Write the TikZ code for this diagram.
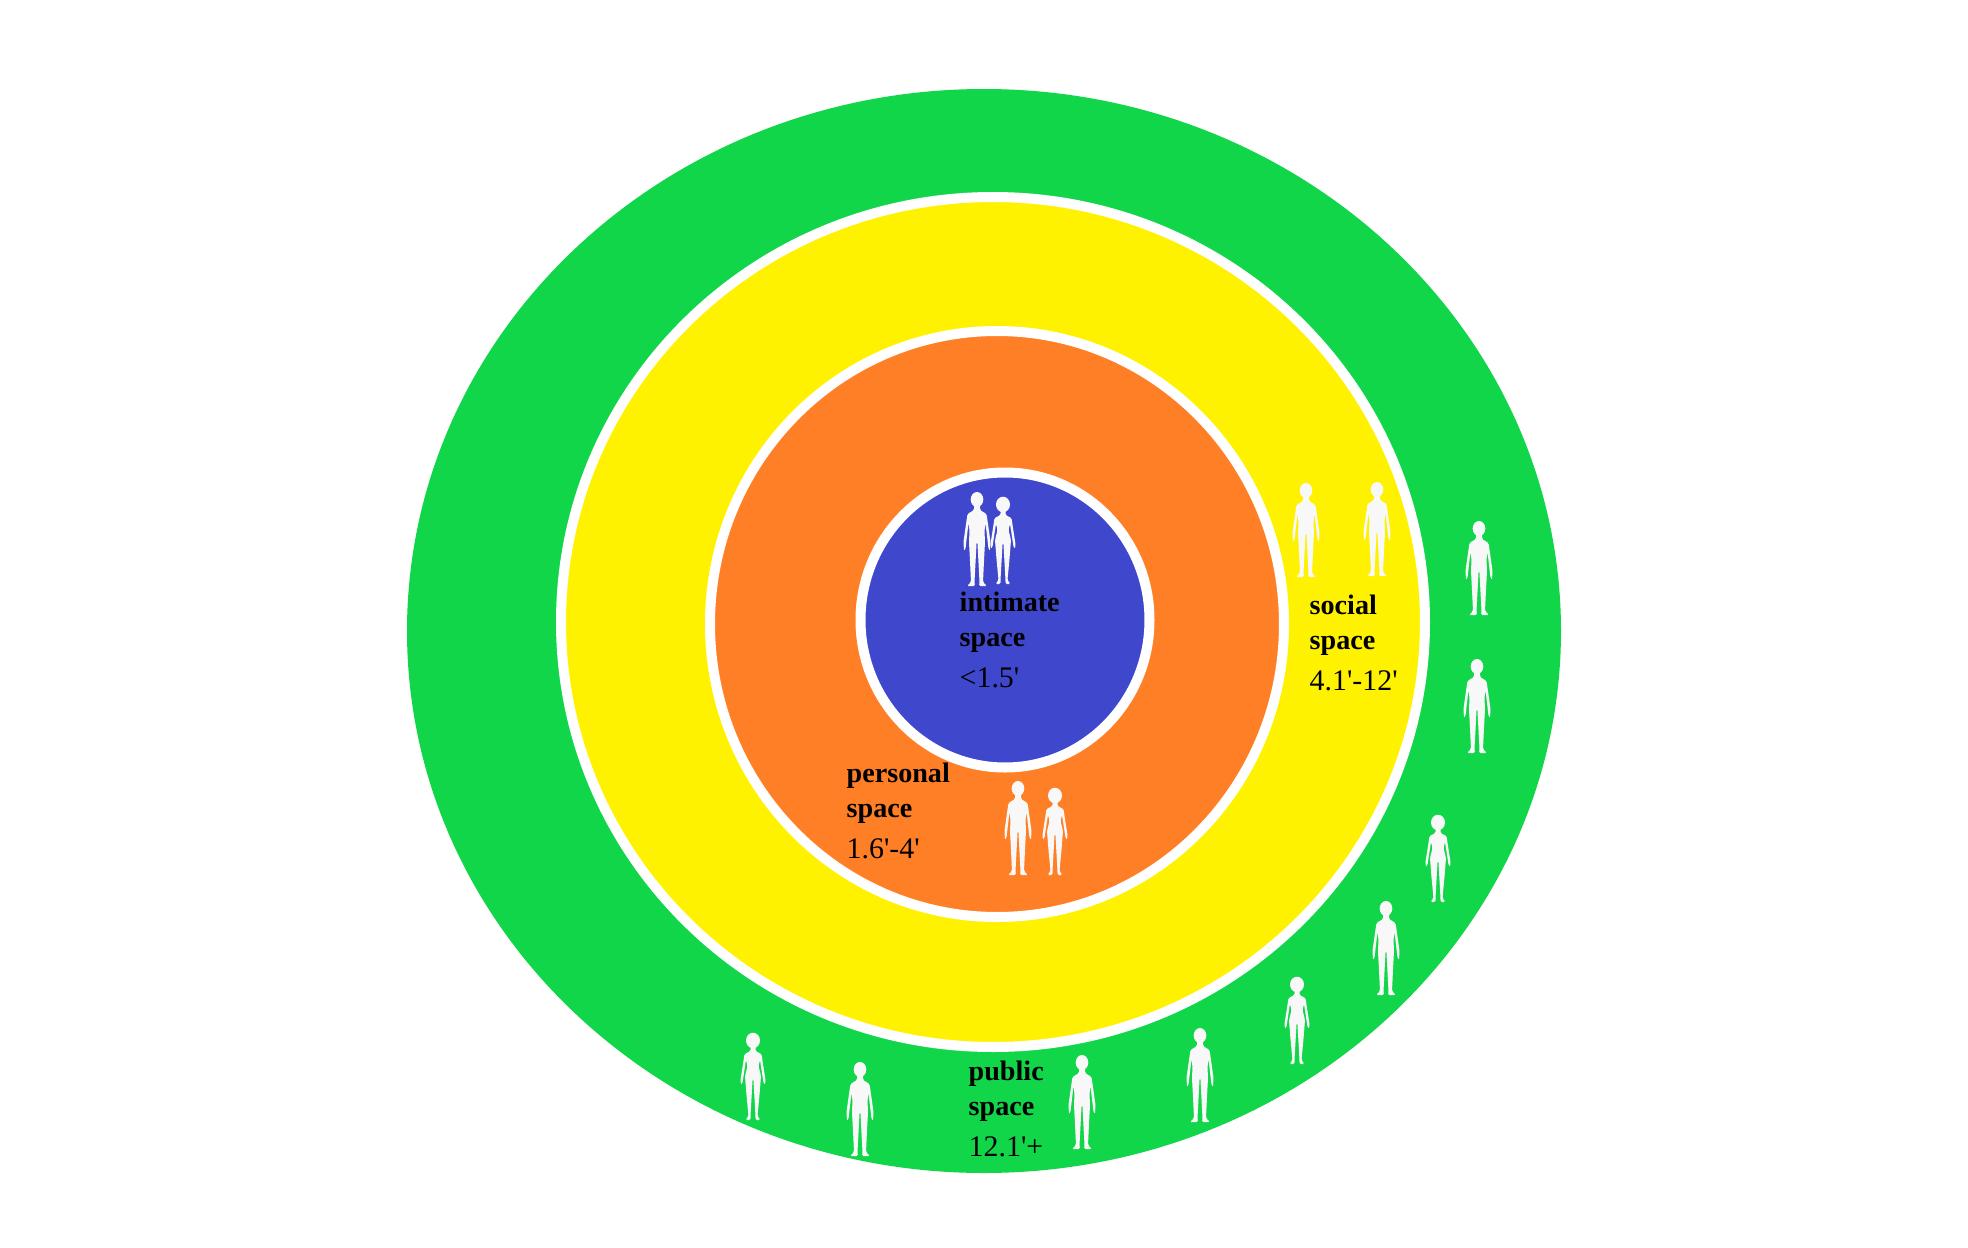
\documentclass[tikz,border=0pt]{standalone}
\usepackage{fontspec}
\newfontfamily\labelfont{Liberation Serif}
\definecolor{publicgreen}{RGB}{18,214,74}
\definecolor{socialyellow}{RGB}{255,242,0}
\definecolor{personalorange}{RGB}{255,127,39}
\definecolor{intimateblue}{RGB}{63,72,204}
\definecolor{figwhite}{RGB}{248,248,248}
\newcommand{\zonetext}[2]{\textbf{#1}\\\textbf{space}\\[1.4pt]{\fontsize{8.5}{10}\selectfont #2}}

\begin{document}
\begin{tikzpicture}[x=0.01cm, y=-0.01cm,
  ring/.style={draw=white, line width=0.1cm, fill=#1},
  zonelabel/.style={
    anchor=base west, align=left, inner sep=0pt,
    font=\labelfont\fontsize{8}{10.1}\selectfont, text=black,
  },
  figman/.pic={
    \fill[figwhite] (0,-86.5) ellipse [x radius=6.3, y radius=7.5];
    \fill[figwhite, rounded corners=0.4pt]
      (-3,-81) -- (-3,-76) -- (-9.5,-72) -- (-11,-62) -- (-13.5,-44) -- (-13,-35) -- (-11.5,-37) -- (-10.5,-46)
      -- (-8.5,-63) -- (-7.5,-55) -- (-8,-44) -- (-7,-25) -- (-6,-4) -- (-10,0) -- (-2,0) -- (-2.5,-4) -- (-0.4,-44)
      -- (0.4,-44) -- (2.5,-4) -- (2,0) -- (10,0) -- (6,-4) -- (7,-25) -- (8,-44) -- (7.5,-55)
      -- (8.5,-63) -- (10.5,-46) -- (11.5,-37) -- (13,-35) -- (13.5,-44) -- (11,-62) -- (9.5,-72) -- (3,-76) -- (3,-81) -- cycle;
  },
  figwoman/.pic={
    \fill[figwhite] (0,-79.5) ellipse [x radius=7, y radius=7.8];
    \fill[figwhite, rounded corners=0.4pt]
      (-2.5,-74) -- (-2.5,-69) -- (-8.5,-66) -- (-10,-56) -- (-12.5,-40) -- (-12,-35) -- (-10.5,-37) -- (-9.5,-44)
      -- (-7,-60) -- (-5.5,-54) -- (-8,-44) -- (-6.5,-25) -- (-4.5,-4) -- (-7.5,0) -- (-2.5,0) -- (-2.5,-4) -- (-0.4,-41)
      -- (0.4,-41) -- (2.5,-4) -- (2.5,0) -- (7.5,0) -- (4.5,-4) -- (6.5,-25) -- (8,-44) -- (5.5,-54)
      -- (7,-60) -- (9.5,-44) -- (10.5,-37) -- (12,-35) -- (12.5,-40) -- (10,-56) -- (8.5,-66) -- (2.5,-69) -- (2.5,-74) -- cycle;
  },
]
\useasboundingbox (0,0) rectangle (1968,1248);

% --- Zones ---
\fill[publicgreen] (984,631) ellipse [x radius=577, y radius=542];
\draw[ring=socialyellow] (993,622) ellipse [x radius=432, y radius=425];
\draw[ring=personalorange] (997,624) ellipse [x radius=287, y radius=293];
\draw[ring=intimateblue] (1005,620) ellipse [x radius=144.5, y radius=147.5];

% --- Men ---
\foreach \fx/\fy in {977/586, 1018/875, 1306/577, 1377/576, 1479/615, 1477/753,
                     1386/995, 1200/1122, 1082/1149, 860/1156}
  \pic at (\fx,\fy) {figman};

% --- Women ---
\foreach \fx/\fy in {1003/584, 1055/875, 1438/902, 1297/1064, 753/1120}
  \pic at (\fx,\fy) {figwoman};

% --- Labels ---
\node[zonelabel] (intimate) at (959,687) {\zonetext{intimate}{<1.5'}};
\node[zonelabel] (personal) at (846,858) {\zonetext{personal}{1.6'-4'}};
\node[zonelabel] (social) at (1309,690) {\zonetext{social}{4.1'-12'}};
\node[zonelabel] (public) at (968,1156) {\zonetext{public}{12.1'+}};

\end{tikzpicture}
\end{document}
